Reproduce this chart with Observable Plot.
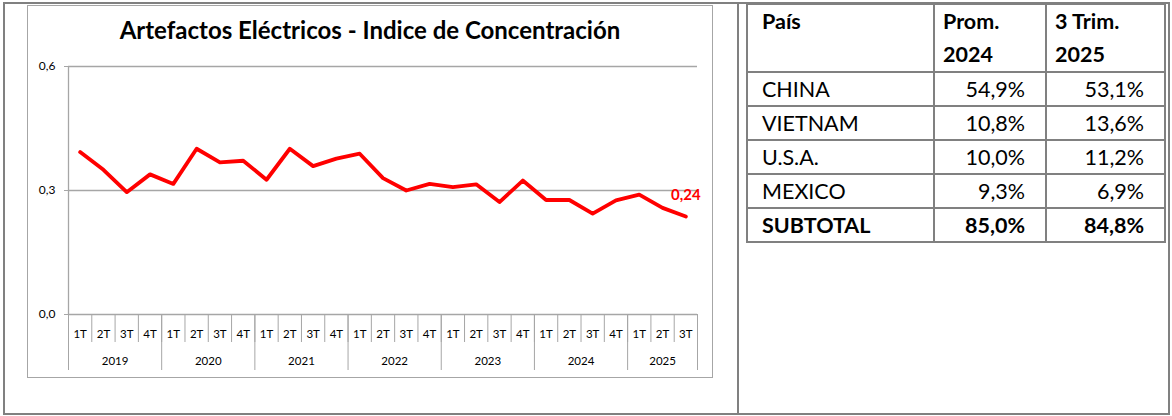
<!DOCTYPE html>
<html><head><meta charset="utf-8">
<script src="https://cdn.jsdelivr.net/npm/d3@7"></script>
<script src="https://cdn.jsdelivr.net/npm/@observablehq/plot@0.6"></script>
<style>
body{margin:0;background:#fff;font-family:Lato,"Open Sans",sans-serif;}
#wrap{position:relative;width:1172px;height:416px;overflow:hidden;}
#frame{position:absolute;left:3px;top:2px;width:1167px;height:413px;border:2px solid #808080;box-sizing:border-box;}
#divider{position:absolute;left:737px;top:2px;width:2px;height:413px;background:#808080;}
#chart{position:absolute;left:27px;top:5px;width:686px;height:373px;}
#chartbox{position:absolute;left:27px;top:5px;width:686px;height:373px;border:1px solid #a6a6a6;box-sizing:border-box;pointer-events:none;}
#title{position:absolute;left:27px;top:15px;width:686px;text-align:center;font-weight:bold;font-size:24px;color:#000;}
#tbl{position:absolute;left:746px;top:3px;border-collapse:collapse;font-size:21.5px;color:#000;}
#tbl td,#tbl th{border:2px solid #808080;padding:0;box-sizing:border-box;}
#tbl th{text-align:left;vertical-align:top;font-weight:bold;height:66px;line-height:33px;}
#tbl td{height:34px;line-height:31px;}
</style></head>
<body><div id="wrap">
<div id="frame"></div>
<div id="divider"></div>
<div id="chart"></div>
<div id="chartbox"></div>
<div id="title"></div>
<table id="tbl"></table>
</div>
<script>
const titleText = "Artefactos Eléctricos - Indice de Concentración";
const years = ["2019","2020","2021","2022","2023","2024","2025"];
const quarters = ["1T","2T","3T","4T"];
const values = [0.393,0.350,0.296,0.339,0.316,0.401,0.368,0.372,
                0.326,0.401,0.359,0.377,0.389,0.330,0.300,0.316,
                0.308,0.315,0.272,0.324,0.277,0.277,0.244,0.276,
                0.290,0.258,0.237];
const yTicks = [0, 0.3, 0.6];
const lastLabel = "0,24";

const tableHeader = [["País"],["Prom.","2024"],["3 Trim.","2025"]];
const countries = ["CHINA","VIETNAM","U.S.A.","MEXICO","SUBTOTAL"];
const prom2024 = ["54,9%","10,8%","10,0%","9,3%","85,0%"];
const trim2025 = ["53,1%","13,6%","11,2%","6,9%","84,8%"];

document.getElementById("title").textContent = titleText;

const n = values.length;
const data = values.map((v,i)=>({pos:i+0.5, q:quarters[i%4], year:years[Math.floor(i/4)], v}));
const qBounds = d3.range(n+1);
const yBounds = [...years.map((y,k)=>k*4), n];
const yCenters = years.map((y,k)=>(k*4 + Math.min(k*4+4,n))/2);
const gray = "#a6a6a6";

const plot = Plot.plot({
  width:686, height:373,
  marginLeft:41, marginRight:16, marginTop:61, marginBottom:64,
  style:{fontFamily:"Lato, sans-serif", fontSize:"11px", color:"#000", background:"transparent"},
  x:{type:"linear", domain:[0,n], label:null},
  y:{domain:[0,0.6], label:null},
  marks:[
    Plot.ruleY([0.3,0.6], {stroke:gray, strokeWidth:1.3}),
    Plot.ruleY([0], {stroke:gray, strokeWidth:1.3}),
    Plot.ruleX([0], {stroke:gray, strokeWidth:1.3}),
    Plot.axisY(yTicks, {tickSize:4, tickPadding:9, stroke:gray, fontSize:12, label:null,
      tickFormat:d=>d.toFixed(1).replace(".",",")}),
    Plot.axisX(qBounds, {tickSize:28, stroke:gray, tickFormat:()=>"", label:null}),
    Plot.axisX(yBounds, {tickSize:56, stroke:gray, tickFormat:()=>"", label:null}),
    Plot.axisX(data.map(d=>d.pos), {tickSize:0, tickPadding:15, fontSize:11.5, label:null,
      tickFormat:p=>data[Math.floor(p)].q}),
    Plot.axisX(yCenters, {tickSize:0, tickPadding:42, fontSize:11.5, label:null,
      tickFormat:c=>years[yCenters.indexOf(c)]}),
    Plot.lineY(data, {x:"pos", y:"v", stroke:"#ff0000", strokeWidth:3.8, strokeLinejoin:"round"}),
    Plot.text([data[n-1]], {x:"pos", y:"v", text:()=>lastLabel, dy:-21, fill:"#ff0000",
      fontWeight:"bold", fontSize:15})
  ]
});
document.getElementById("chart").appendChild(plot);

const tbl = document.getElementById("tbl");
const colW = [187,112,119];
const cg = document.createElement("colgroup");
colW.forEach(w=>{const c=document.createElement("col"); c.style.width=w+"px"; cg.appendChild(c);});
tbl.appendChild(cg);
const hr = document.createElement("tr");
tableHeader.forEach((lines,k)=>{
  const th=document.createElement("th");
  th.innerHTML = lines.join("<br>");
  th.style.paddingLeft = k===0 ? "14px" : "8px";
  hr.appendChild(th);
});
tbl.appendChild(hr);
countries.forEach((c,i)=>{
  const tr=document.createElement("tr");
  const last = i===countries.length-1;
  [c, prom2024[i], trim2025[i]].forEach((t,k)=>{
    const td=document.createElement("td");
    td.textContent=t;
    if(k===0){td.style.paddingLeft="14px";td.style.textAlign="left";}
    else {td.style.textAlign="right";td.style.paddingRight="20px";}
    if(last) td.style.fontWeight="bold";
    tr.appendChild(td);
  });
  tbl.appendChild(tr);
});
</script>
</body></html>
